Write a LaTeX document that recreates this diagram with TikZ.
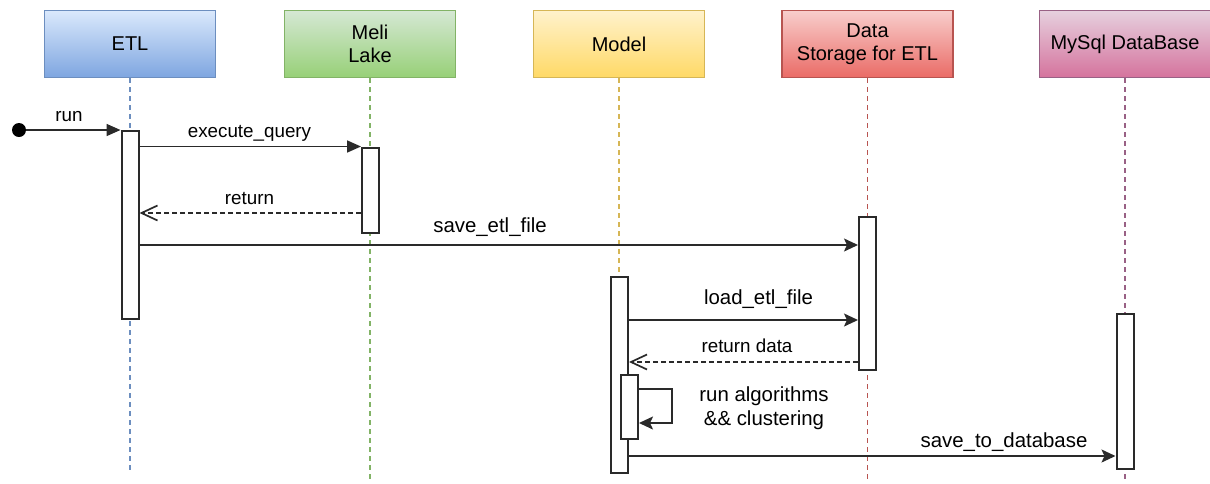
\documentclass[tikz,border=0pt]{standalone}
\usepackage{fontspec}
\setmainfont{Liberation Sans}
\usetikzlibrary{arrows.meta}

% lifeline header colours: stroke, gradient top, gradient bottom
\definecolor{etlS}{HTML}{6C8EBF}\definecolor{etlT}{HTML}{DAE8FC}\definecolor{etlB}{HTML}{7EA6E0}
\definecolor{lakeS}{HTML}{82B366}\definecolor{lakeT}{HTML}{D5E8D4}\definecolor{lakeB}{HTML}{97D077}
\definecolor{modS}{HTML}{D6B656}\definecolor{modT}{HTML}{FFF2CC}\definecolor{modB}{HTML}{FFD966}
\definecolor{dsS}{HTML}{B85450}\definecolor{dsT}{HTML}{F8CECC}\definecolor{dsB}{HTML}{EA6B66}
\definecolor{dbS}{HTML}{996185}\definecolor{dbT}{HTML}{E6D0DE}\definecolor{dbB}{HTML}{D5739D}
\definecolor{ink}{HTML}{2A2A2A}

\begin{document}
\begin{tikzpicture}[x=0.5pt,y=-0.5pt,
  header/.style n args={3}{draw=#1, top color=#2, bottom color=#3, line width=0.8pt,
    minimum width=85.5pt, minimum height=33.5pt, inner sep=0pt, align=center,
    font=\fontsize{10}{11.5}\selectfont},
  life/.style={draw=#1, line width=0.55pt, dash pattern=on 2.5pt off 2pt},
  act/.style={draw=ink, fill=white, line width=1pt, minimum width=8.5pt, inner sep=0pt},
  msg/.style={draw=ink, line width=0.85pt},
  blockarrow/.style={msg, -{Triangle[length=7pt, width=6pt]}},
  classicarrow/.style={msg, -{Stealth[length=7pt, width=6.5pt, inset=1.5pt]}},
  reply/.style={msg, dash pattern=on 2.5pt off 1.5pt, -{Straight Barb[length=8pt, width=7.5pt, line width=0.85pt]}},
  smalllbl/.style={anchor=base, inner sep=0pt, font=\fontsize{9.4}{11}\selectfont},
  biglbl/.style={inner sep=0pt, align=center, font=\fontsize{10.2}{12}\selectfont},
]
\useasboundingbox (0,0) rectangle (1210,483);

% participants
\node[header={etlS}{etlT}{etlB}]   (hETL)   at (130,44)    {ETL};
\node[header={lakeS}{lakeT}{lakeB}] (hLake) at (370,44)    {Meli\\Lake};
\node[header={modS}{modT}{modB}]   (hModel) at (619,44)    {Model};
\node[header={dsS}{dsT}{dsB}]      (hDS)    at (867.5,44)  {Data\\Storage for ETL};
\node[header={dbS}{dbT}{dbB}]      (hDB)    at (1125,44)   {MySql DataBase};

% lifeline ends
\coordinate (eETL)   at (130,473);
\coordinate (eLake)  at (370,483);
\coordinate (eModel) at (619,473);
\coordinate (eDS)    at (867.5,483);
\coordinate (eDB)    at (1125,483);

\draw[life=etlS]  (hETL.south)   -- (eETL);
\draw[life=lakeS] (hLake.south)  -- (eLake);
\draw[life=modS]  (hModel.south) -- (eModel);
\draw[life=dsS]   (hDS.south)    -- (eDS);
\draw[life=dbS]   (hDB.south)    -- (eDB);

% activation bars
\node[act, minimum height=94pt] (aETL)   at (130,224.5) {};
\node[act, minimum height=42.5pt] (aLake) at (370.5,190) {};
\node[act, minimum height=76.5pt] (aDS)   at (867.5,293) {};
\node[act, minimum height=98pt] (aModel) at (619.5,374.5) {};
\node[act, minimum height=32pt] (aSelf)  at (629.5,406.5) {};
\node[act, minimum height=77.5pt] (aDB)   at (1125,391) {};

% message rows
\coordinate (rRet)  at (0,213);
\coordinate (rSave) at (0,245);
\coordinate (rLoad) at (0,320);
\coordinate (rData) at (0,362);
\coordinate (rDB)   at (0,456);
\coordinate (loopA) at (672,389);
\coordinate (loopB) at (672,423);

% initial message
\node[circle, fill=black, minimum size=7pt, inner sep=0pt] (start) at (19,130) {};
\draw[blockarrow] (start) -- (start -| aETL.west);
\node[smalllbl] (lRun) at (69,121) {run};

\draw[blockarrow] (aETL.east |- aLake.north) -- (aLake.north west);
\node[smalllbl] (lExec) at (249.5,137) {execute\_query};

\draw[reply] (aLake.west |- rRet) -- (aETL.east |- rRet);
\node[smalllbl] (lRet) at (249.5,204) {return};

\draw[classicarrow] (aETL.east |- rSave) -- (aDS.west |- rSave);
\node[biglbl, anchor=base] (lSave) at (490,232) {save\_etl\_file};

\draw[classicarrow] (aModel.east |- rLoad) -- (aDS.west |- rLoad);
\node[biglbl, anchor=base] (lLoad) at (758.5,304) {load\_etl\_file};

\draw[reply] (aDS.west |- rData) -- (aModel.east |- rData);
\node[smalllbl] (lData) at (747,352) {return data};

% self call
\draw[classicarrow] (aSelf.east |- loopA) -- (loopA) -- (loopB) -- (aSelf.east |- loopB);
\node[biglbl] (lAlg) at (764,408) {run algorithms\\\&\& clustering};

\draw[classicarrow] (aModel.east |- rDB) -- (aDB.west |- rDB);
\node[biglbl, anchor=base] (lDB) at (1004,447) {save\_to\_database};
\end{tikzpicture}
\end{document}
